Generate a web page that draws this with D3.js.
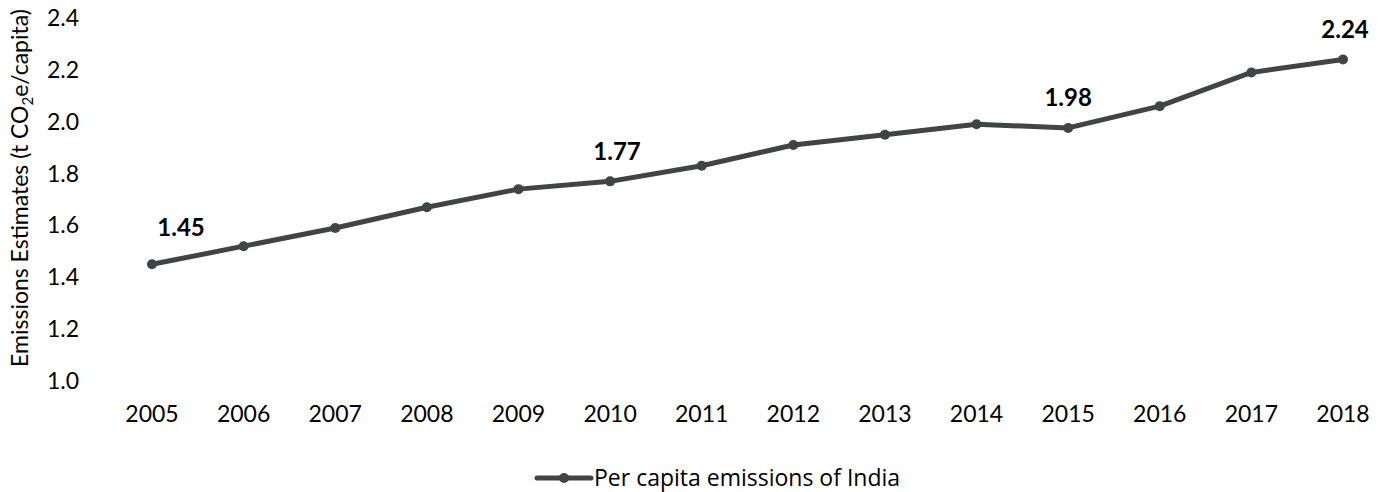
<!DOCTYPE html>
<html><head><meta charset="utf-8">
<script src="https://cdn.jsdelivr.net/npm/d3@7/dist/d3.min.js"></script>
<style>body{margin:0;background:#fff}svg{display:block}</style>
</head><body>
<svg id="c" width="1389" height="492"></svg>
<script>
const years = [2005,2006,2007,2008,2009,2010,2011,2012,2013,2014,2015,2016,2017,2018];
const values = [1.45,1.52,1.59,1.67,1.74,1.77,1.83,1.91,1.95,1.99,1.976,2.06,2.19,2.24];
const labelYears = [2005,2010,2015,2018];
const yTicks = [1.0,1.2,1.4,1.6,1.8,2.0,2.2,2.4];
const seriesName = "Per capita emissions of India";

const svg = d3.select("#c");
const col = "#404444";
const x = d3.scalePoint().domain(years).range([152,1343]);
const y = d3.scaleLinear().domain([1.0,2.4]).range([381,18]);

// y ticks
svg.append("g").selectAll("text").data(yTicks).join("text")
  .attr("x",47).attr("y",d=>y(d)).attr("dy","0.35em")
  .attr("font-family","Lato").attr("font-size",23).attr("fill","#000")
  .text(d=>d.toFixed(1));

// x ticks
svg.append("g").selectAll("text").data(years).join("text")
  .attr("x",d=>x(d)).attr("y",414).attr("dy","0.35em").attr("text-anchor","middle")
  .attr("font-family","Lato").attr("font-size",23).attr("fill","#000")
  .text(d=>d);

// y title
const t = svg.append("text").attr("transform","translate(28,188) rotate(-90)")
  .attr("text-anchor","middle").attr("font-family","Lato").attr("font-size",23).attr("fill","#000");
t.append("tspan").text("Emissions Estimates (t CO");
t.append("tspan").attr("font-size",15).attr("dy",5).text("2");
t.append("tspan").attr("dy",-5).text("e/capita)");

const data = years.map((yr,i)=>({yr,v:values[i]}));
svg.append("path").datum(data)
  .attr("d",d3.line().x(d=>x(d.yr)).y(d=>y(d.v)))
  .attr("fill","none").attr("stroke",col).attr("stroke-width",5).attr("stroke-linejoin","round");
svg.append("g").selectAll("circle").data(data).join("circle")
  .attr("cx",d=>x(d.yr)).attr("cy",d=>y(d.v)).attr("r",5).attr("fill",col);

// data labels
const lab = data.filter(d=>labelYears.includes(d.yr));
svg.append("g").selectAll("text").data(lab).join("text")
  .attr("x",d=>x(d.yr) + (d.yr===2005?29:(d.yr===2010?7:(d.yr===2018?2:0))))
  .attr("y",d=>y(d.v) - (d.yr===2005?37:30)).attr("dy","0.35em").attr("text-anchor","middle")
  .attr("font-family","Lato").attr("font-weight","bold").attr("font-size",24).attr("fill","#000")
  .text(d=>d.v.toFixed(2));

// legend
const lg = svg.append("g");
lg.append("line").attr("x1",537).attr("x2",591).attr("y1",478).attr("y2",478)
  .attr("stroke",col).attr("stroke-width",5).attr("stroke-linecap","round");
lg.append("circle").attr("cx",564).attr("cy",478).attr("r",5).attr("fill",col);
lg.append("text").attr("x",594).attr("y",478).attr("dy","0.35em")
  .attr("font-family","Open Sans").attr("font-size",23).attr("fill","#000").text(seriesName);
</script>
</body></html>
